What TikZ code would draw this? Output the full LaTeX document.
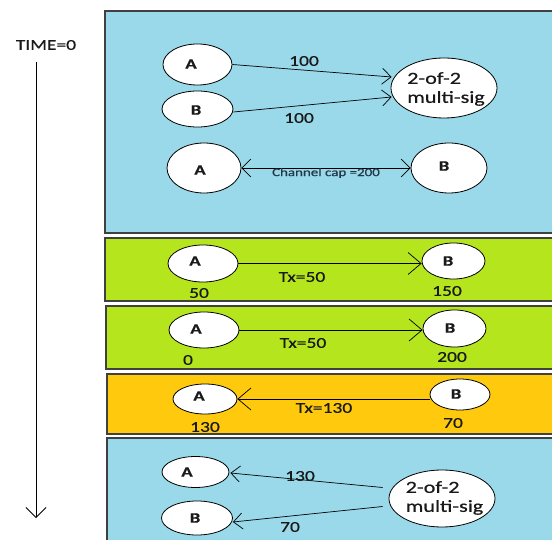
\documentclass[tikz,border=0pt]{standalone}
\usepackage{fontspec}
\setmainfont[FakeStretch=1.3,FakeBold=0.6]{Carlito}
\usetikzlibrary{shapes.geometric,arrows.meta,calc}
\definecolor{pblue}{RGB}{153,217,234}
\definecolor{pgreen}{RGB}{181,230,29}
\definecolor{porange}{RGB}{255,201,14}
\definecolor{pborder}{RGB}{64,64,64}
\definecolor{txt}{RGB}{25,25,25}
\definecolor{smalltxt}{RGB}{35,55,75}
\begin{document}
\begin{tikzpicture}[x=1pt,y=-1pt,
  panel/.style={draw=pborder,line width=1.5pt},
  ell/.style={ellipse,draw=black,fill=white,line width=0.8pt,inner sep=0pt},
  lab/.style={font=\fontsize{15}{17}\selectfont,text=txt,inner sep=0pt},
  nm/.style={font=\bfseries\fontsize{14.5}{16}\selectfont,text=txt,inner sep=0pt},
  mstxt/.style={font=\fontsize{17}{19}\selectfont,text=txt,inner sep=0pt,align=left},
  con/.style={draw=black,line width=0.7pt,-{Straight Barb[length=9pt,width=16pt]}},
  bigcon/.style={draw=black,line width=0.7pt,-{Straight Barb[length=13pt,width=22pt]}},
]
\useasboundingbox (0,0) rectangle (552,540);
\clip (0,0) rectangle (552,540);

% time axis
\node[lab] (time) at (46,45) {TIME=0};
\coordinate (t0) at (36,62);
\coordinate (t1) at (36,518);
\draw[line width=0.8pt,-{Straight Barb[length=10pt,width=20pt]}] (t0) -- (t1);

% panels
\draw[panel,fill=pblue]   (105,11)  rectangle (570,233);
\draw[panel,fill=pgreen]  (105,238) rectangle (570,301);
\draw[panel,fill=pgreen]  (106,306) rectangle (570,369);
\draw[panel,fill=porange] (107,374) rectangle (570,434);
\draw[panel,fill=pblue]   (107,438) rectangle (570,560);

% ---- panel 1
\node[ell,minimum width=69pt,minimum height=41pt] (a1) at (197.5,64.5) {};
\node[nm] (a1t) at (191,64) {A};
\node[ell,minimum width=71pt,minimum height=36pt] (b1) at (197.5,109) {};
\node[nm] (b1t) at (196,110) {B};
\node[ell,minimum width=106pt,minimum height=60pt] (ms1) at (444,88) {};
\node[mstxt] (ms1t) at (446,89) {2-of-2\\multi-sig};
\draw[con] (a1.east) -- ($(ms1.west)+(1,-11)$);
\draw[con] ($(b1.east)+(0,3)$) -- ($(ms1.west)+(1,9)$);
\node[lab] (l100a) at (304,61) {100};
\node[lab] (l100b) at (299,118) {100};

\node[ell,minimum width=74pt,minimum height=50pt] (a2) at (204,168) {};
\node[nm] (a2t) at (200,170) {A};
\node[ell,minimum width=76pt,minimum height=50pt] (b2) at (449,168) {};
\node[nm] (b2t) at (444,166) {B};
\draw[line width=0.7pt,{Straight Barb[length=9pt,width=18pt]}-{Straight Barb[length=9pt,width=18pt]}] (a2.east) -- (b2.west);
\node[font=\fontsize{11.5}{13}\selectfont,text=smalltxt,inner sep=0pt] (cap) at (326,173) {Channel cap =200};

% ---- panel 2
\node[ell,minimum width=70pt,minimum height=37pt] (ga1) at (203,263.5) {};
\node[nm] (ga1t) at (195,261) {A};
\node[ell,minimum width=63pt,minimum height=36pt] (gb1) at (453.5,261) {};
\node[nm] (gb1t) at (448,261) {B};
\draw[bigcon] (ga1.east) -- (gb1.west |- ga1.east);
\node[lab] (tx1) at (302,277) {Tx=50};
\node[lab] (v50) at (199,293) {50};
\node[lab] (v150) at (447,291) {150};

% ---- panel 3
\node[ell,minimum width=70pt,minimum height=36pt] (ga2) at (204,330) {};
\node[nm] (ga2t) at (196,329) {A};
\node[ell,minimum width=63pt,minimum height=37pt] (gb2) at (454.5,328.5) {};
\node[nm] (gb2t) at (450,328) {B};
\draw[bigcon] (ga2.east) -- (gb2.west |- ga2.east);
\node[lab] (tx2) at (303,343) {Tx=50};
\node[lab] (v0) at (188,360) {0};
\node[lab] (v200) at (452,357) {200};

% ---- panel 4
\node[ell,minimum width=64pt,minimum height=30pt] (oa) at (205,399) {};
\node[nm] (oat) at (199,396) {A};
\node[ell,minimum width=60pt,minimum height=31pt] (ob) at (460,394.5) {};
\node[nm] (obt) at (456,394) {B};
\draw[bigcon] (ob.west |- oa.east) -- (oa.east);
\node[lab] (tx3) at (324,408) {Tx=130};
\node[lab] (v130) at (205,427) {130};
\node[lab] (v70) at (453,423) {70};

% ---- panel 5
\node[ell,minimum width=67pt,minimum height=31pt] (a5) at (195.5,472) {};
\node[nm] (a5t) at (187,472) {A};
\node[ell,minimum width=71pt,minimum height=34pt] (b5) at (197,518) {};
\node[nm] (b5t) at (195,518) {B};
\node[ell,minimum width=106pt,minimum height=57pt] (ms2) at (442,498.5) {};
\node[mstxt] (ms2t) at (444.5,498) {2-of-2\\multi-sig};
\draw[con] ($(ms2.west)+(-6,-11)$) -- ($(a5.east)+(1,1)$);
\draw[con] ($(ms2.west)+(-6,8)$) -- ($(b5.east)+(0,4)$);
\node[lab] (l130) at (300,476) {130};
\node[lab] (l70) at (290,527) {70};
\end{tikzpicture}
\end{document}
